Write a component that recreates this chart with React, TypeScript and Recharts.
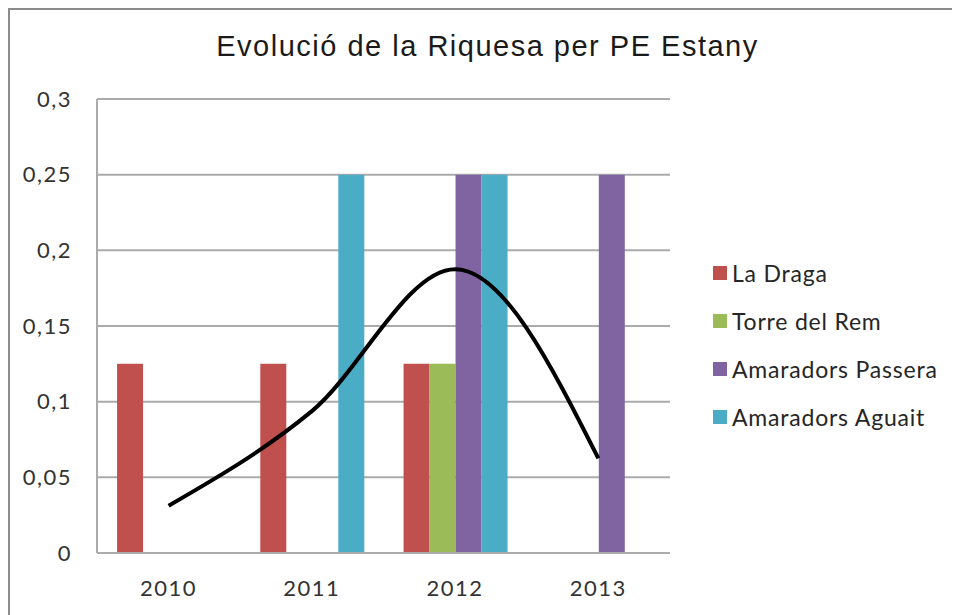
import React from 'react';
import { ComposedChart, Bar, Line, XAxis, YAxis, CartesianGrid, Legend } from 'recharts';

const years = ['2010', '2011', '2012', '2013'];
const laDraga = [0.125, 0.125, 0.125, null];
const torreDelRem = [null, null, 0.125, null];
const amaradorsPassera = [null, null, 0.25, 0.25];
const amaradorsAguait = [null, 0.25, 0.25, null];
const tendencia = [0.03125, 0.09375, 0.1875, 0.0625];
const yTicks = [0, 0.05, 0.1, 0.15, 0.2, 0.25, 0.3];

const seriesNames = ['La Draga', 'Torre del Rem', 'Amaradors Passera', 'Amaradors Aguait'];
const seriesColors = ['#C0504D', '#9BBB59', '#8064A2', '#4BACC6'];

const data = years.map((y, i) => ({
  year: y,
  s0: laDraga[i],
  s1: torreDelRem[i],
  s2: amaradorsPassera[i],
  s3: amaradorsAguait[i],
  trend: tendencia[i],
}));

const FONT = 'Lato, "Open Sans", sans-serif';

const LegendContent = () => (
  <div style={{ fontFamily: FONT, fontSize: 23, letterSpacing: 0.8, color: '#262626' }}>
    {seriesNames.map((n, i) => (
      <div key={n} style={{ height: 48, display: 'flex', alignItems: 'center', whiteSpace: 'nowrap' }}>
        <span style={{ width: 14, height: 14, background: seriesColors[i], display: 'inline-block', marginRight: 5 }} />
        <span>{n}</span>
      </div>
    ))}
  </div>
);

export default function App() {
  return (
    <div
      style={{
        position: 'relative',
        width: 950,
        height: 605,
        borderTop: '2px solid #8c8c8c',
        borderLeft: '2px solid #8c8c8c',
        background: '#ffffff',
      }}
    >
      <div
        style={{
          position: 'absolute',
          top: 22,
          left: 0,
          width: 955,
          textAlign: 'center',
          fontFamily: '"Liberation Sans", Arial, sans-serif',
          fontSize: 29,
          letterSpacing: 1.5,
          lineHeight: '29px',
          color: '#1a1a1a',
          zIndex: 2,
        }}
      >
        Evolució de la Riquesa per PE Estany
      </div>
      <ComposedChart
        width={950}
        height={605}
        data={data}
        margin={{ top: 89, right: 290, bottom: 0, left: 0 }}
        barCategoryGap="14%"
        barGap={0}
      >
        <CartesianGrid vertical={false} stroke="#ababab" strokeWidth={2} />
        <XAxis
          dataKey="year"
          height={62}
          axisLine={{ stroke: '#ababab', strokeWidth: 2 }}
          tickLine={false}
          tickSize={0}
          tickMargin={27}
          tick={{ fontFamily: FONT, fontSize: 22, fill: '#333333', letterSpacing: 1.5 }}
        />
        <YAxis
          width={87}
          domain={[0, 0.3]}
          ticks={yTicks}
          interval={0}
          axisLine={{ stroke: '#ababab', strokeWidth: 2 }}
          tickLine={false}
          tickSize={0}
          tickMargin={25}
          tickFormatter={(v: number) => String(v).replace('.', ',')}
          tick={{ fontFamily: FONT, fontSize: 22, fill: '#333333', letterSpacing: 1.5 }}
        />
        {seriesNames.map((n, i) => (
          <Bar key={n} dataKey={`s${i}`} name={n} fill={seriesColors[i]} isAnimationActive={false} />
        ))}
        <Line
          type="monotone"
          dataKey="trend"
          stroke="#000000"
          strokeWidth={4}
          dot={false}
          activeDot={false}
          legendType="none"
          isAnimationActive={false}
        />
        <Legend
          layout="vertical"
          align="center"
          verticalAlign="middle"
          content={<LegendContent />}
          wrapperStyle={{ left: 703, top: 239, width: 245 }}
        />
      </ComposedChart>
    </div>
  );
}
